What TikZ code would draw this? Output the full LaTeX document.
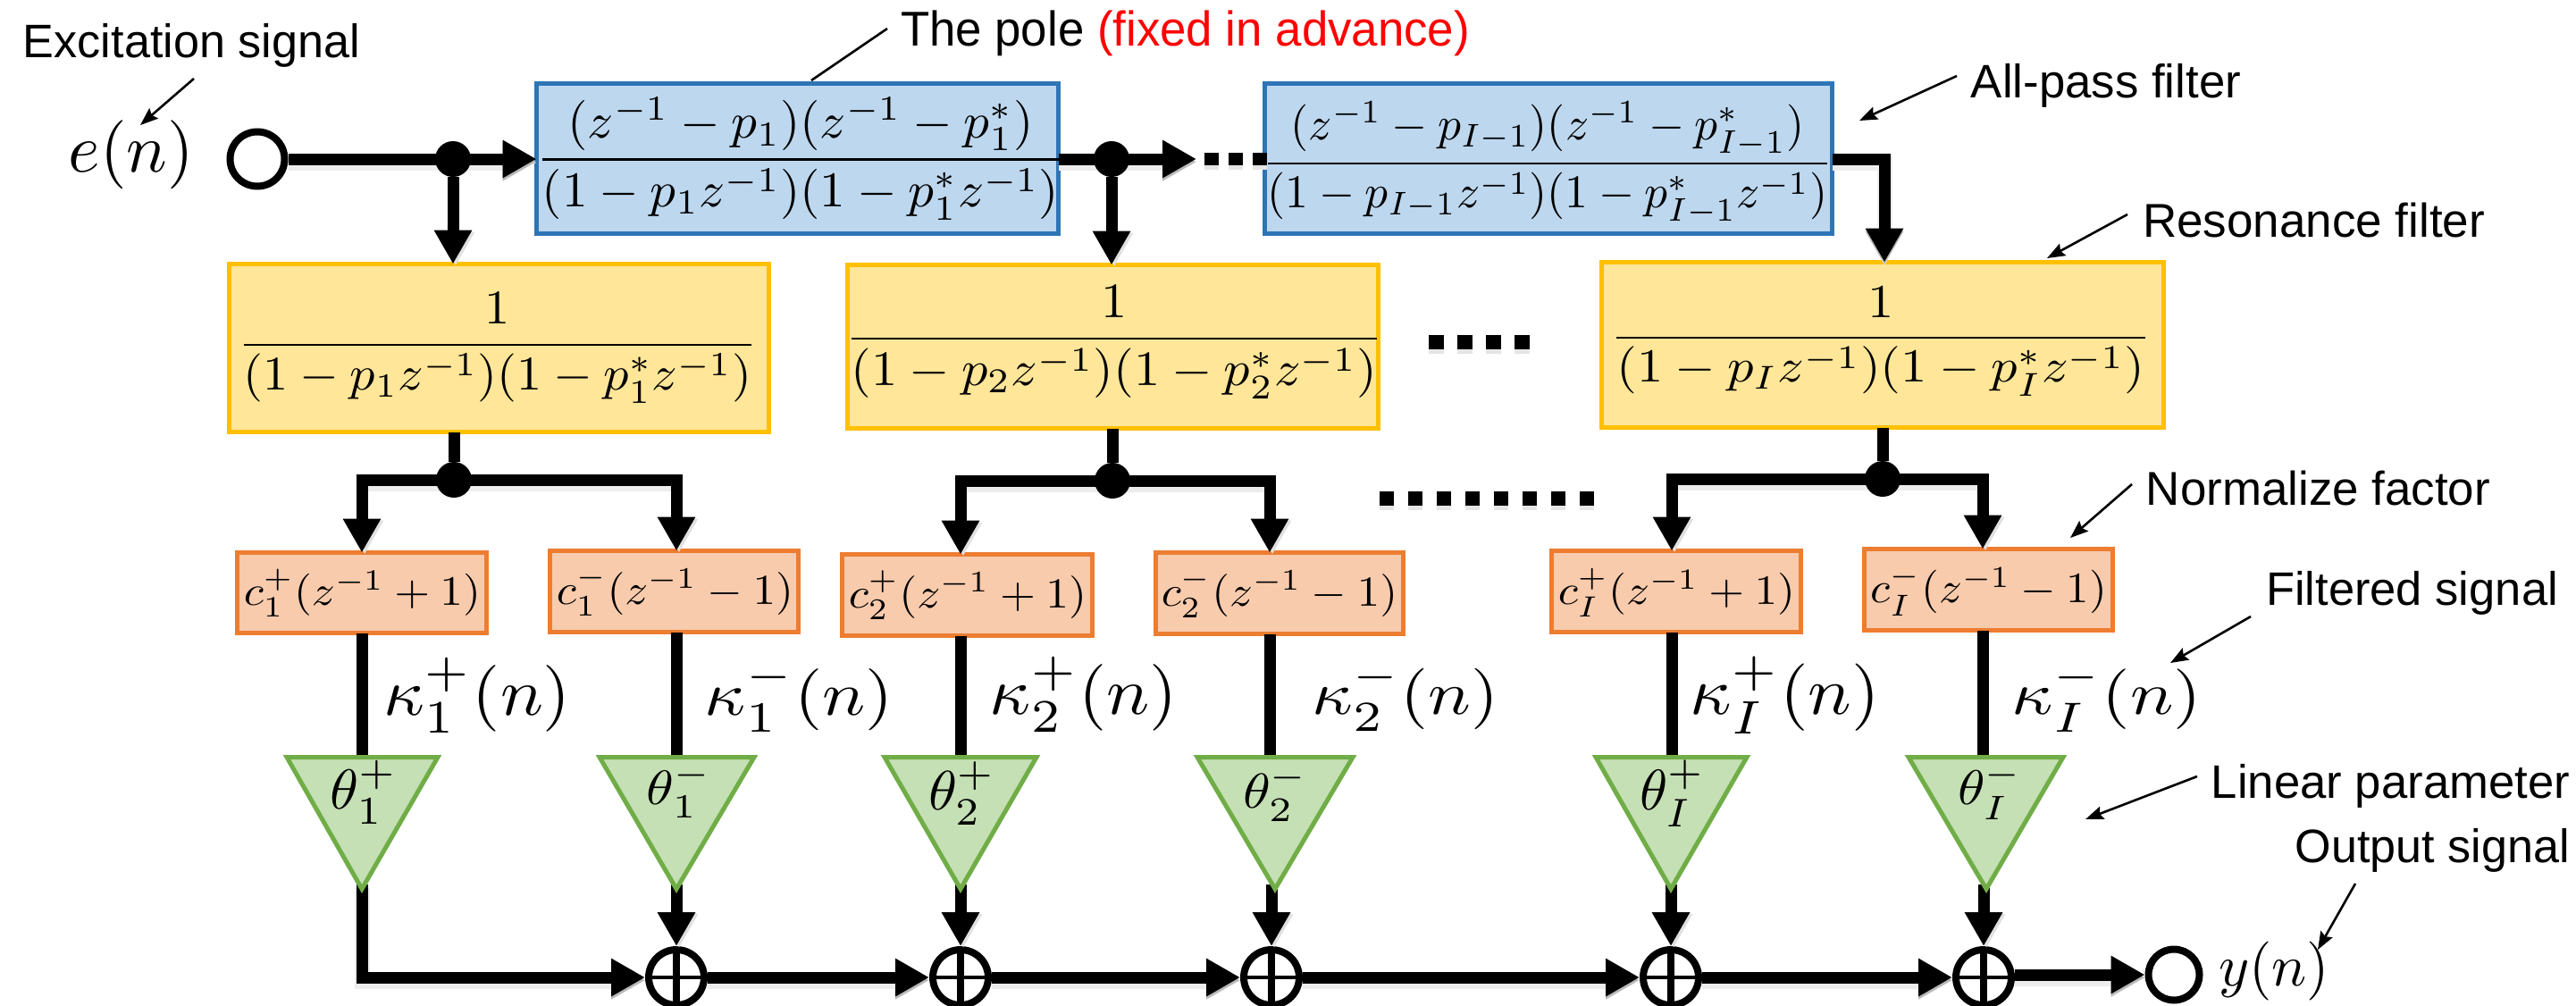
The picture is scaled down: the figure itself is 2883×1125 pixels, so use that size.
\documentclass[tikz,border=0pt]{standalone}
\usepackage{amsmath,graphicx}
\usepackage[no-math]{fontspec}
\newfontfamily\lab{Liberation Sans}
\usetikzlibrary{arrows.meta}
\pgfdeclarelayer{front}
\pgfsetlayers{main,front}
\definecolor{bluefill}{HTML}{BDD7EE}\definecolor{blueline}{HTML}{2E75B6}
\definecolor{yelfill}{HTML}{FFE699}\definecolor{yelline}{HTML}{FFC000}
\definecolor{orfill}{HTML}{F8CBAD}\definecolor{orline}{HTML}{ED7D31}
\definecolor{grfill}{HTML}{C5E0B4}\definecolor{grline}{HTML}{70AD47}
\newcommand{\fitbox}[3]{\resizebox*{#1pt}{#2pt}{#3}}
\newcommand{\boxat}[6]{\node[#1,minimum width={#4-#3-5},minimum height={#6-#5-5}] (#2) at ({(#3+#4)/2},{(#5+#6)/2}) {};}
\newcommand{\trishape}[5]{\coordinate (#1top) at ({(#2+#3)/2},847);\filldraw[trifig] (#2+4,847.5) -- (#3-4,847.5) -- (#4,#5-5) -- cycle;}
\setlength{\nulldelimiterspace}{0pt}
\tikzset{
 x=1pt,y=-1pt,
 boxbase/.style={rectangle,line width=5pt,inner sep=0pt,outer sep=0pt},
 bluebox/.style={boxbase,draw=blueline,fill=bluefill},
 yelbox/.style={boxbase,draw=yelline,fill=yelfill},
 orbox/.style={boxbase,draw=orline,fill=orfill},
 trifig/.style={line width=5pt,draw=grline,fill=grfill,line join=miter},
 softa/.style={preaction={draw=black!7,line width=17pt,transform canvas={yshift=-4pt}},preaction={draw=black!28,transform canvas={yshift=-3pt}}},
 wire/.style={line width=13pt,draw=black,line join=miter,softa},
 stem/.style={line width=13pt,draw=black,preaction={draw=black!12,transform canvas={xshift=3pt,yshift=-2pt}}},
 bigtip/.style={-{Triangle[length=38pt,width=40pt]}},
 thin arrow/.style={line width=2.6pt,-{Stealth[length=20pt,width=15pt,inset=3pt]}},
 lbl/.style={inner sep=0pt,outer sep=0pt},
 dot/.style={circle,fill=black,minimum size=40pt,inner sep=0pt,outer sep=0pt},
 ringnode/.style={circle,draw=black,fill=white,line width=8pt,inner sep=0pt,outer sep=4pt},
 sumnode/.style={circle,draw=black,fill=white,line width=8pt,minimum size=62pt,inner sep=0pt,outer sep=4pt,
   path picture={\draw[line width=8pt] (path picture bounding box.north) -- (path picture bounding box.south);
     \draw[line width=4.5pt] (path picture bounding box.west) -- (path picture bounding box.east);}},
 marksq/.style={fill=black,preaction={fill=black!10,transform canvas={yshift=-5pt}}},
}
\begin{document}
\begin{tikzpicture}
\clip (0,0) rectangle (2883,1125);
% boxes
\boxat{bluebox}{b1}{598}{1187}{91}{264}
\boxat{bluebox}{b2}{1413}{2053}{91}{264}
\boxat{yelbox}{y1}{254}{863}{293}{486}
\boxat{yelbox}{y2}{946}{1545}{294}{482}
\boxat{yelbox}{y3}{1790}{2424}{291}{481}
\boxat{orbox}{o1}{263}{547}{616}{711}
\boxat{orbox}{o2}{613}{896}{614}{710}
\boxat{orbox}{o3}{940}{1225}{618}{714}
\boxat{orbox}{o4}{1291}{1573}{616}{712}
\boxat{orbox}{o5}{1734}{2018}{614}{710}
\boxat{orbox}{o6}{2084}{2367}{612}{708}
% terminals and junctions
\node[ringnode,minimum size=61pt] (in) at (288,178) {};
\node[ringnode,minimum size=57pt] (out) at (2433,1091) {};
\begin{pgfonlayer}{front}
\node[dot] (d1) at (507,178) {};
\node[dot] (d2) at (1244,178) {};
\node[dot] (d3) at (508,537) {};
\node[dot] (d4) at (1245,538) {};
\node[dot] (d5) at (2107,536) {};
\end{pgfonlayer}
\coordinate (c2) at (1339,178);
\coordinate (c3) at (2109,178);
\coordinate (stemy) at (0,990);
\coordinate (t1apex) at (405,1000);
\coordinate (x1) at (405,0);\coordinate (x2) at (757,0);\coordinate (x3) at (1075,0);
\coordinate (x4) at (1421,0);\coordinate (x5) at (1871,0);\coordinate (x6) at (2219,0);
% top row wires
\draw[wire,bigtip] (in.east) -- (b1.west |- in);
\draw[wire,bigtip] (b1.east |- d2) -- (c2);
\draw[wire,bigtip] (b2.east |- c3) -- (c3) -- (c3 |- y3.north);
\draw[stem,bigtip] (d1) -- (d1 |- y1.north);
\draw[stem,bigtip] (d2) -- (d2 |- y2.north);
\draw[stem] (d3 |- y1.south) -- (d3);
\draw[stem] (d4 |- y2.south) -- (d4);
\draw[stem] (d5 |- y3.south) -- (d5);
% branches
\draw[wire] ([xshift=-6.5pt]x1 |- d3) -- ([xshift=6.5pt]x2 |- d3);
\draw[wire] ([xshift=-6.5pt]x3 |- d4) -- ([xshift=6.5pt]x4 |- d4);
\draw[wire] ([xshift=-6.5pt]x5 |- d5) -- ([xshift=6.5pt]x6 |- d5);
\foreach \p/\q/\d in {x1/o1/d3,x2/o2/d3,x3/o3/d4,x4/o4/d4,x5/o5/d5,x6/o6/d5}
  \draw[stem,bigtip] (\p |- \d) -- (\p |- \q.north);
% vertical signals to the triangles
\coordinate (trow) at (0,850);
\foreach \p/\q in {x1/o1,x2/o2,x3/o3,x4/o4,x5/o5,x6/o6}
  \draw[line width=13pt] (\p |- \q.south) -- (\p |- trow);
% sums
\node[sumnode] (s1) at (757,1094) {};
\node[sumnode] (s2) at (1075,1094) {};
\node[sumnode] (s3) at (1423,1094) {};
\node[sumnode] (s4) at (1870,1094) {};
\node[sumnode] (s5) at (2220,1094) {};
\draw[wire,bigtip] (t1apex) ++(0,-10) |- (s1.west);
\draw[wire,bigtip] (s1.east) -- (s2.west);
\draw[wire,bigtip] (s2.east) -- (s3.west);
\draw[wire,bigtip] (s3.east) -- (s4.west);
\draw[wire,bigtip] (s4.east) -- (s5.west);
\draw[wire,bigtip] (s5.east |- out) -- (out.west);
\foreach \s in {s1,s2,s3,s4,s5}
  \draw[stem,bigtip] (\s |- stemy) -- (\s.north);
% triangles on top of the stems
\trishape{t1}{317}{494}{405}{1000}
\trishape{t2}{667}{848}{757}{1000}
\trishape{t3}{986}{1164}{1075}{1000}
\trishape{t4}{1336}{1518}{1427}{1000}
\trishape{t5}{1782}{1959}{1870}{1000}
\trishape{t6}{2132}{2313}{2223}{1000}
% ellipsis marks
\foreach \X in {1348,1375,1402} \path[marksq] (\X,171) rectangle (\X+16,185);
\foreach \X in {1599,1631,1663,1695} \path[marksq] (\X,375) rectangle (\X+17,391);
\foreach \X in {1544,1576,1608,1640,1672,1704,1736,1768} \path[marksq] (\X,550) rectangle (\X+16,566);
% formulas
\node[lbl] (fb1) at (896,177.5) {\fitbox{578}{137}{$\displaystyle\frac{(z^{-1}-p_1)(z^{-1}-p_1^*)}{(1-p_1z^{-1})(1-p_1^*z^{-1})}$}};
\node[lbl] (fb2) at (1732,183) {\fitbox{626}{138}{$\displaystyle\frac{(z^{-1}-p_{I-1})(z^{-1}-p_{I-1}^*)}{(1-p_{I-1}z^{-1})(1-p_{I-1}^*z^{-1})}$}};
\node[lbl] (fy1) at (557,389.5) {\fitbox{568}{123}{$\displaystyle\frac{1}{(1-p_1z^{-1})(1-p_1^*z^{-1})}$}};
\node[lbl] (fy2) at (1247,383) {\fitbox{588}{126}{$\displaystyle\frac{1}{(1-p_2z^{-1})(1-p_2^*z^{-1})}$}};
\node[lbl] (fy3) at (2105,382) {\fitbox{591}{122}{$\displaystyle\frac{1}{(1-p_Iz^{-1})(1-p_I^*z^{-1})}$}};
\node[lbl] (fo1) at (405.5,663.5) {\fitbox{265}{53}{$c_1^+(z^{-1}+1)$}};
\node[lbl] (fo2) at (755.5,662) {\fitbox{265}{54}{$c_1^-(z^{-1}-1)$}};
\node[lbl] (fo3) at (1083,666) {\fitbox{266}{54}{$c_2^+(z^{-1}+1)$}};
\node[lbl] (fo4) at (1432,664) {\fitbox{264}{54}{$c_2^-(z^{-1}-1)$}};
\node[lbl] (fo5) at (1876.5,663) {\fitbox{265}{54}{$c_I^+(z^{-1}+1)$}};
\node[lbl] (fo6) at (2226,661) {\fitbox{264}{56}{$c_I^-(z^{-1}-1)$}};
\node[lbl] (k1) at (534.5,778) {\fitbox{209}{84}{$\kappa_1^+(n)$}};
\node[lbl] (k2) at (894.5,780) {\fitbox{211}{78}{$\kappa_1^-(n)$}};
\node[lbl] (k3) at (1213,777) {\fitbox{210}{84}{$\kappa_2^+(n)$}};
\node[lbl] (k4) at (1573,779.5) {\fitbox{209}{77}{$\kappa_2^-(n)$}};
\node[lbl] (k5) at (1998,778) {\fitbox{212}{87}{$\kappa_I^+(n)$}};
\node[lbl] (k6) at (2358,780) {\fitbox{212}{78}{$\kappa_I^-(n)$}};
\node[lbl] (th1) at (407,886.5) {\fitbox{75}{71}{$\theta_1^+$}};
\node[lbl] (th2) at (760.5,884.5) {\fitbox{73}{61}{$\theta_1^-$}};
\node[lbl] (th3) at (1076.5,888) {\fitbox{75}{70}{$\theta_2^+$}};
\node[lbl] (th4) at (1427.5,888) {\fitbox{73}{62}{$\theta_2^-$}};
\node[lbl] (th5) at (1871.5,888) {\fitbox{73}{74}{$\theta_I^+$}};
\node[lbl] (th6) at (2227,885.5) {\fitbox{72}{63}{$\theta_I^-$}};
\node[lbl] (en) at (147,173.5) {\fitbox{140}{77}{$e(n)$}};
\node[lbl] (yn) at (2545,1087) {\fitbox{124}{66}{$y(n)$}};
% text labels
\node[lbl] (tex) at (214.5,50.5) {\fitbox{377}{49}{\lab Excitation signal}};
\node[lbl] (tpole) at (1326.5,37.5) {\fitbox{637}{51}{\lab The pole \textcolor{red}{(fixed in advance)}}};
\node[lbl] (tall) at (2357,95.5) {\fitbox{302}{49}{\lab All-pass filter}};
\node[lbl] (tres) at (2589.5,246.5) {\fitbox{383}{39}{\lab Resonance filter}};
\node[lbl] (tnor) at (2594.5,546.5) {\fitbox{385}{39}{\lab Normalize factor}};
\node[lbl] (tfil) at (2699.5,663.5) {\fitbox{327}{49}{\lab Filtered signal}};
\node[lbl] (tlin) at (2675.5,879.5) {\fitbox{401}{49}{\lab Linear parameter}};
\node[lbl] (tout) at (2722.5,951.5) {\fitbox{307}{49}{\lab Output signal}};
% callouts
\coordinate (a1) at (217,88);\coordinate (a1e) at (157,140);
\coordinate (a2) at (993,32);\coordinate (a2e) at (908,90);
\coordinate (a3) at (2190,85);\coordinate (a3e) at (2081,135);
\coordinate (a4) at (2381,240);\coordinate (a4e) at (2291,289);
\coordinate (a5) at (2386,542);\coordinate (a5e) at (2317,602);
\coordinate (a6) at (2519,690);\coordinate (a6e) at (2429,742);
\coordinate (a7) at (2459,869);\coordinate (a7e) at (2334,917);
\coordinate (a8) at (2636,989);\coordinate (a8e) at (2594,1063);
\draw[thin arrow] (a1) -- (a1e);
\draw[line width=2.6pt] (a2) -- (a2e);
\draw[thin arrow] (a3) -- (a3e);
\draw[thin arrow] (a4) -- (a4e);
\draw[thin arrow] (a5) -- (a5e);
\draw[thin arrow] (a6) -- (a6e);
\draw[thin arrow] (a7) -- (a7e);
\draw[thin arrow] (a8) -- (a8e);
\end{tikzpicture}
\end{document}
